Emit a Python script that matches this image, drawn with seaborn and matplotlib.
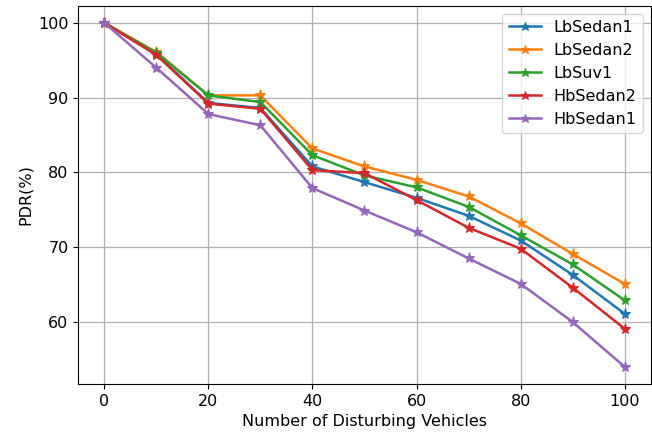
import numpy as np
import pandas as pd
import matplotlib
matplotlib.use("Agg")
import matplotlib.pyplot as plt
import seaborn as sns

# 数据
vehicles = [0, 10, 20, 30, 40, 50, 60, 70, 80, 90, 100]
lb_sedan1 = [100, 95.8, 89.3, 88.6, 80.8, 78.7, 76.6, 74.2, 70.9, 66.3, 61.1]
lb_sedan2 = [100, 96.1, 90.3, 90.3, 83.2, 80.8, 79.0, 76.8, 73.2, 69.1, 65.1]
lb_suv1 = [100, 96.0, 90.3, 89.4, 82.3, 79.6, 78.0, 75.4, 71.6, 67.7, 62.9]
hb_sedan2 = [100, 95.7, 89.2, 88.5, 80.3, 79.9, 76.3, 72.6, 69.8, 64.6, 59.1]
hb_sedan1 = [100, 94.0, 87.8, 86.3, 77.9, 74.9, 72.0, 68.5, 65.1, 60.0, 54.0]

series_names = ["LbSedan1", "LbSedan2", "LbSuv1", "HbSedan2", "HbSedan1"]
series_vals = [lb_sedan1, lb_sedan2, lb_suv1, hb_sedan2, hb_sedan1]
colors = sns.color_palette("tab10", 5)

fs = 11.5
fig, ax = plt.subplots(figsize=(6.52, 4.32), dpi=100)
fig.subplots_adjust(left=0.12, right=0.998, top=0.987, bottom=0.111)

for name, vals, c in zip(series_names, series_vals, colors):
    sns.lineplot(x=vehicles, y=vals, ax=ax, label=name, color=c,
                 marker="*", markersize=8, markeredgecolor=c, linewidth=1.8)

ax.grid(True, color="#b0b0b0", linewidth=0.9)
ax.set_axisbelow(True)
ax.set_xticks([0, 20, 40, 60, 80, 100])
ax.set_yticks([60, 70, 80, 90, 100])
ax.tick_params(labelsize=fs)
ax.set_xlabel("Number of Disturbing Vehicles", fontsize=fs)
ax.set_ylabel("PDR(%)", fontsize=fs)
ax.legend(loc="upper right", fontsize=fs, markerscale=0.8)

plt.savefig("out.png", dpi=100)
plt.close()
